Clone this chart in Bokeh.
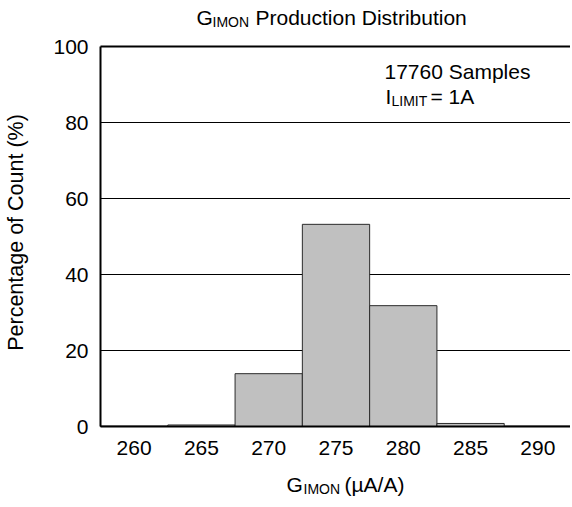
import math
from bokeh.plotting import figure
from bokeh.models import Range1d, FixedTicker, Label, LinearAxis
from bokeh.embed import file_html
from bokeh.resources import INLINE

# ---- data ----
bin_centers = [260, 265, 270, 275, 280, 285, 290]
percent = [0.1, 0.4, 13.9, 53.2, 31.8, 0.8, 0.1]
y_ticks = [0, 20, 40, 60, 80, 100]
grid_levels = [20, 40, 60, 80]
title_main = "G"
title_sub = "IMON"
title_rest = "Production Distribution"
xlabel_main = "G"
xlabel_sub = "IMON"
xlabel_rest = "(µA/A)"
note_line1 = "17760 Samples"
note_main = "I"
note_sub = "LIMIT"
note_rest = "= 1A"
ylabel = "Percentage of Count (%)"

FONT = "Liberation Sans"
FS = "21px"
SUB = "14px"

# plot-area geometry (page pixels) and data extent
XMIN, XMAX = 257.5, 292.5
YMIN, YMAX = 0, 100
FL, FT, FW, FH = 101, 47, 471, 380
OX, OY = 1, 1          # page position of canvas origin
W, H = 570, 499
TDY = -7               # baseline correction for labels

def px2x(px):
    return XMIN + (px - FL) * (XMAX - XMIN) / FW

def py2y(py):
    return YMIN + (FT + FH - py) * (YMAX - YMIN) / FH

x_range = Range1d(px2x(OX), px2x(OX + W))
y_range = Range1d(py2y(OY + H), py2y(OY))

p = figure(width=W, height=H, output_backend="svg", toolbar_location=None,
           x_range=x_range, y_range=y_range, x_axis_type=None, y_axis_type=None,
           min_border=0, min_border_left=0, min_border_right=0,
           min_border_top=0, min_border_bottom=0)
p.outline_line_color = None
p.background_fill_color = "white"
p.border_fill_color = "white"
p.grid.visible = False

# horizontal grid lines and top border line
p.segment(x0=[XMIN] * len(grid_levels), x1=[x_range.end] * len(grid_levels),
          y0=grid_levels, y1=grid_levels, line_color="black", line_width=1)
p.segment(x0=[XMIN], x1=[x_range.end], y0=[YMAX], y1=[YMAX],
          line_color="black", line_width=2)

# histogram bars
p.vbar(x=bin_centers, top=percent, width=5, bottom=0, fill_color="#c0c0c0",
       line_color="#2b2b2b", line_width=1)

# axes fixed at the data origin
yax = LinearAxis(ticker=FixedTicker(ticks=y_ticks), fixed_location=XMIN, bounds=(YMIN, YMAX))
xax = LinearAxis(ticker=FixedTicker(ticks=bin_centers), fixed_location=YMIN, bounds=(XMIN, XMAX))
for ax in (xax, yax):
    ax.axis_line_color = "black"
    ax.axis_line_width = 2
    ax.major_tick_line_color = None
    ax.minor_tick_line_color = None
    ax.major_label_text_font = FONT
    ax.major_label_text_font_size = FS
    ax.major_label_text_color = "black"
yax.major_label_standoff = 6
xax.major_label_standoff = 8
p.add_layout(yax, "left")
p.add_layout(xax, "below")

def add_text(txt, px, py, size=FS, angle=0.0, align="left", baseline="alphabetic", dy=TDY):
    p.add_layout(Label(x=px2x(px), y=py2y(py + dy), text=txt, text_font=FONT,
                       text_font_size=size, text_color="black", angle=angle,
                       text_align=align, text_baseline=baseline))

# title
add_text(title_main, 197, 25)
add_text(title_sub, 213, 29, SUB)
add_text(title_rest, 256, 25)
# annotation
add_text(note_line1, 385, 79)
add_text(note_main, 386, 104)
add_text(note_sub, 392, 108, SUB)
add_text(note_rest, 431, 104)
# x label
add_text(xlabel_main, 287, 492)
add_text(xlabel_sub, 304, 496, SUB)
add_text(xlabel_rest, 345, 492)
# y label
add_text(ylabel, 16, 233, size="21.5px", angle=math.pi / 2, align="center",
         baseline="middle", dy=0)

open("out.html", "w").write(file_html(p, INLINE))
